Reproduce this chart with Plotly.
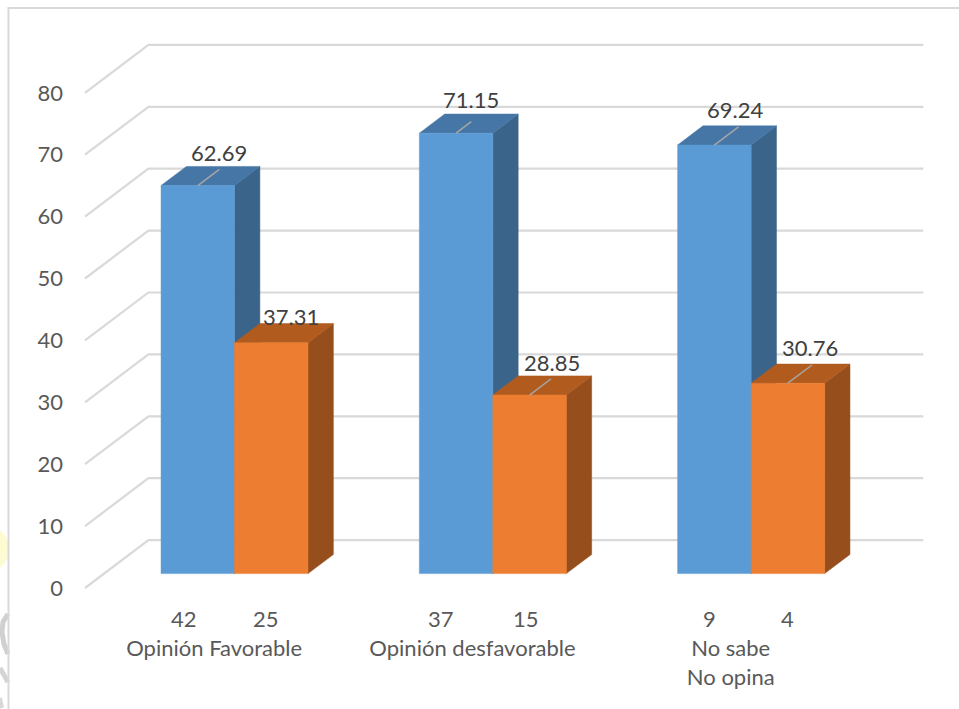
import plotly.graph_objects as go

# Survey results: share (%) and respondent counts per opinion group
categories = ["Opinión Favorable", "Opinión desfavorable", "No sabe<br>No opina"]
series_a = [62.69, 71.15, 69.24]
series_b = [37.31, 28.85, 30.76]
counts_a = ["42", "37", "9"]
counts_b = ["25", "15", "4"]
value_ticks = [0, 10, 20, 30, 40, 50, 60, 70, 80]

# Oblique projection used to fake the 3-D column look
DEPTH_X = 0.2455      # group widths per unit of depth
DEPTH_Y = 7.74        # value units per unit of depth
BAR_FRONT, BAR_BACK = 0.30, 0.70
BAR_GAP = 0.2207      # left inset of a group's first column
BAR_W = 0.2845

FONT = "Lato"
FONT_SIZE = 22
TICK_COLOR = "#595959"
LABEL_COLOR = "#404040"
GRID = "#d9d9d9"
FACES = [
    {"front": "#5b9bd5", "side": "#3a6489", "top": "#4676a5"},
    {"front": "#ed7d31", "side": "#964f1c", "top": "#b15b1f"},
]

# Label placement relative to the column's front-top centre (group widths, value units),
# and how deep each leader line reaches; None means no leader line
LABEL_SHIFT = [
    [(0.081, 5.3), (0.058, 5.5), (0.081, 5.7)],
    [(0.077, 4.2), (0.085, 5.3), (0.085, 5.8)],
]
LEADER_DEPTH = [
    [0.64, 0.54, 0.68],
    [None, 0.64, 0.68],
]
# Offsets of the count labels from the group centre
COUNT_SHIFT = [[-0.118, -0.120, -0.081], [0.201, 0.209, 0.221]]

# Plot area in page pixels, used to place the decorations outside the axes
PAGE_W, PAGE_H = 959, 709
M_L, M_R, M_T, M_B = 70, 19, 30, 109
PLOT_W, PLOT_H = PAGE_W - M_L - M_R, PAGE_H - M_T - M_B


def page_x(px):
    return (px - M_L) / PLOT_W


def page_y(py):
    return 1 - (py - M_T) / PLOT_H


def project(u, v, d):
    return u + d * DEPTH_X, v + d * DEPTH_Y


def polygon(points, color):
    xs, ys = zip(*[project(*p) for p in points])
    return go.Scatter(
        x=list(xs) + [xs[0]], y=list(ys) + [ys[0]], mode="lines", fill="toself",
        fillcolor=color, line=dict(color=color, width=0.5),
        hoverinfo="skip", showlegend=False,
    )


def stroke(pts, color, width):
    """Open path in page pixels, drawn beneath the plot."""
    path = "M " + " L ".join(f"{page_x(x):.4f},{page_y(y):.4f}" for x, y in pts)
    return dict(type="path", xref="paper", yref="paper", path=path,
                line=dict(color=color, width=width), layer="below")


fig = go.Figure()

# Floor and back-wall gridlines
for tick in value_ticks:
    pts = [project(0, tick, 0), project(0, tick, 1), project(3, tick, 1)]
    fig.add_trace(go.Scatter(
        x=[p[0] for p in pts], y=[p[1] for p in pts], mode="lines",
        line=dict(color=GRID, width=2.2), hoverinfo="skip", showlegend=False,
    ))

annotations = []
leaders = []
for g in range(3):
    for s, values in enumerate((series_a, series_b)):
        value = values[g]
        x0 = g + BAR_GAP + s * BAR_W
        x1 = x0 + BAR_W
        c = FACES[s]
        fig.add_trace(polygon([(x1, 0, BAR_FRONT), (x1, 0, BAR_BACK),
                               (x1, value, BAR_BACK), (x1, value, BAR_FRONT)], c["side"]))
        fig.add_trace(polygon([(x0, value, BAR_FRONT), (x0, value, BAR_BACK),
                               (x1, value, BAR_BACK), (x1, value, BAR_FRONT)], c["top"]))
        fig.add_trace(polygon([(x0, 0, BAR_FRONT), (x0, value, BAR_FRONT),
                               (x1, value, BAR_FRONT), (x1, 0, BAR_FRONT)], c["front"]))

        xc = (x0 + x1) / 2
        lx, ly = project(xc, value, BAR_FRONT)
        depth = LEADER_DEPTH[s][g]
        if depth is not None:
            ex, ey = project(xc, value, depth)
            leaders.append(((lx, ly), (ex, ey)))
        dx, dy = LABEL_SHIFT[s][g]
        annotations.append(dict(
            x=lx + dx, y=ly + dy, xref="x", yref="y", text=f"{value:.2f}",
            showarrow=False, xanchor="center", yanchor="middle",
            font=dict(family=FONT, size=FONT_SIZE, color=LABEL_COLOR),
        ))

for (a, b) in leaders:
    fig.add_trace(go.Scatter(
        x=[a[0], b[0]], y=[a[1], b[1]], mode="lines",
        line=dict(color="#a6a6a6", width=1.5), hoverinfo="skip", showlegend=False,
    ))

# Respondent counts printed above the category names
for g in range(3):
    for s, labels in enumerate((counts_a, counts_b)):
        annotations.append(dict(
            x=g + 0.5 + COUNT_SHIFT[s][g], y=0, yshift=-30, xref="x", yref="y", text=labels[g],
            showarrow=False, xanchor="center", yanchor="middle",
            font=dict(family=FONT, size=FONT_SIZE, color=TICK_COLOR),
        ))

shapes = [
    # Remnants of a backdrop mark showing left of the frame
    dict(type="circle", xref="paper", yref="paper", layer="below",
         x0=page_x(-24), x1=page_x(9), y0=page_y(570), y1=page_y(528),
         fillcolor="#fdfbd2", line=dict(width=0)),
    stroke([(8, 614), (3, 622), (2, 632), (4, 644), (8, 654)], "#d0d0d0", 5),
    stroke([(0, 668), (8, 682)], "#d4d4d4", 5),
    stroke([(0, 698), (2, 708)], "#d8d8d8", 4),
    # Chart frame
    stroke([(959, 8), (8.5, 8), (8.5, 709)], GRID, 2),
]

fig.update_layout(
    width=PAGE_W, height=PAGE_H,
    margin=dict(l=M_L, r=M_R, t=M_T, b=M_B, autoexpand=False),
    paper_bgcolor="white", plot_bgcolor="white",
    showlegend=False,
    font=dict(family=FONT, size=FONT_SIZE, color=TICK_COLOR),
    xaxis=dict(
        range=[-0.0581, 3.3101], showgrid=False, zeroline=False, showline=False,
        tickmode="array", tickvals=[0.5, 1.5, 2.5], ticktext=categories,
        ticks="", ticklabelstandoff=33,
        tickfont=dict(family=FONT, size=FONT_SIZE, color=TICK_COLOR),
    ),
    yaxis=dict(
        range=[-1.939, 90.145], showgrid=False, zeroline=False, showline=False,
        tickmode="array", tickvals=value_ticks, ticks="", ticklabelstandoff=6,
        tickfont=dict(family=FONT, size=FONT_SIZE, color=TICK_COLOR),
    ),
    annotations=annotations,
    shapes=shapes,
)

fig.write_html("out.html")
